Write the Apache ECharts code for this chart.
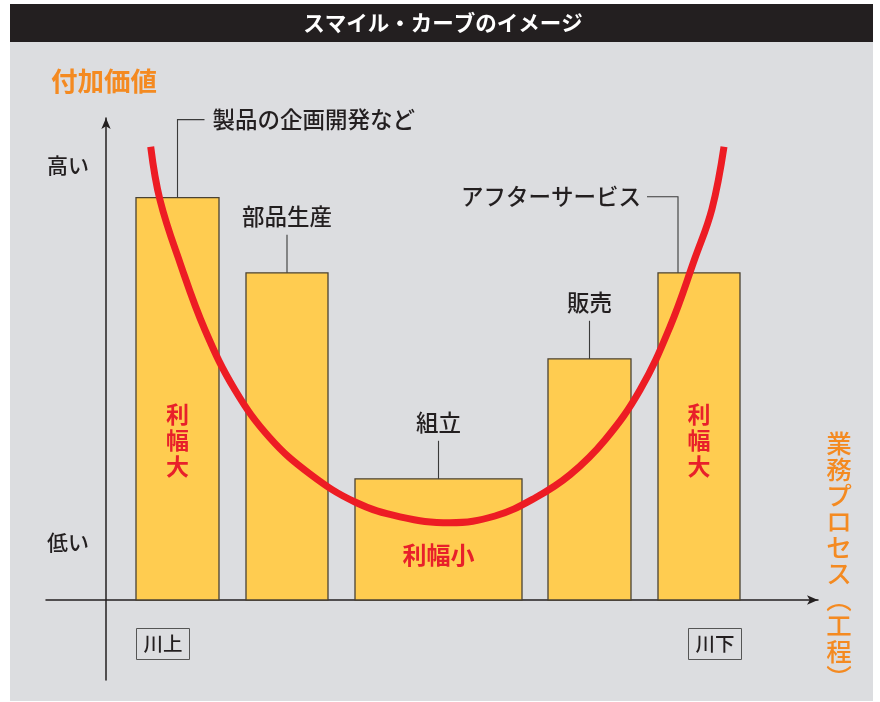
<!DOCTYPE html>
<html><head><meta charset="utf-8">
<script src="https://cdn.jsdelivr.net/npm/echarts@6/dist/echarts.min.js"></script>
<style>html,body{margin:0;padding:0;background:#fff}#c{width:880px;height:702px}</style>
</head><body><div id="c"></div>
<script>
// ---- data ----
const chartTitle = 'スマイル・カーブのイメージ';
const yAxisName = '付加価値';
const xAxisName = '業務プロセス（工程）';
const stages = ['製品の企画開発など', '部品生産', '組立', '販売', 'アフターサービス'];
const stageStart = [3.0, 14.0, 24.9, 44.2, 55.2];
const stageEnd = [11.3, 22.2, 41.6, 52.5, 63.4];
const valueAdded = [10.06, 8.18, 3.03, 6.03, 8.18];
const marginLabels = ['利幅大', '', '利幅小', '', '利幅大'];
const curveX = [4.47, 5.4, 7.4, 9.9, 12.9, 16.4, 20.4, 24.9, 29.4, 34.4, 38.9, 42.9, 46.4, 49.9, 53.4, 56.4, 58.9, 60.6, 61.8];
const curveY = [11.33, 10.0, 8.43, 6.75, 5.25, 4.05, 3.15, 2.45, 2.08, 1.93, 2.1, 2.55, 3.13, 4.0, 5.25, 6.83, 8.55, 9.78, 11.33];
const levelLabels = ['高い', '低い'];
const flowLabels = ['川上', '川下'];

// ---- chart ----
const FONT = '"Noto Sans CJK JP", "Noto Sans", sans-serif';
const INK = '#231f20';
const ORANGE = '#f48a21';
const RED = '#e8202a';
const chart = echarts.init(document.getElementById('c'), null, {renderer: 'canvas'});

const barData = stages.map((s, i) => [stageStart[i], stageEnd[i], valueAdded[i]]);
const curveData = curveX.map((x, i) => [x, curveY[i]]);

function renderBar(params, api) {
  const i = params.dataIndex;
  const p0 = api.coord([api.value(0), api.value(2)]);
  const p1 = api.coord([api.value(1), 0]);
  const cx = (p0[0] + p1[0]) / 2, top = p0[1], base = p1[1];
  const children = [{
    type: 'rect',
    shape: {x: p0[0], y: top, width: p1[0] - p0[0], height: base - top},
    style: {fill: '#ffcc50', stroke: '#4a4234', lineWidth: 1.3}
  }];
  let pts, tx, ty, al;
  if (i === 0) {
    pts = [[cx, top], [cx, top - 78], [cx + 27, top - 78]];
    tx = cx + 35; ty = top - 78; al = 'left';
  } else if (i === stages.length - 1) {
    const lx = p0[0] + 20;
    pts = [[lx, top], [lx, top - 76], [lx - 31, top - 76]];
    tx = lx - 37; ty = top - 76; al = 'right';
  } else {
    pts = [[cx, top], [cx, top - 38]];
    tx = cx; ty = top - 56; al = 'center';
  }
  children.push({type: 'polyline', shape: {points: pts}, style: {stroke: '#3a3a3a', lineWidth: 1.1, fill: null}});
  children.push({type: 'text', style: {x: tx, y: ty, text: stages[i], align: al, verticalAlign: 'middle',
    fontSize: 22.5, fontWeight: 500, fontFamily: FONT, fill: INK}});
  const m = marginLabels[i];
  if (m) {
    if (i === 2) {
      children.push({type: 'text', style: {x: cx, y: base - 45, text: m, align: 'center', verticalAlign: 'middle',
        fontSize: 24, fontWeight: 'bold', fontFamily: FONT, fill: RED}});
    } else {
      children.push({type: 'text', style: {x: cx, y: base - 160, text: m.split('').join('\n'), align: 'center',
        verticalAlign: 'middle', lineHeight: 26, fontSize: 23, fontWeight: 'bold', fontFamily: FONT, fill: RED}});
    }
  }
  return {type: 'group', children};
}

const axisCommon = {
  axisTick: {show: false}, axisLabel: {show: false}, splitLine: {show: false}
};

const option = {
  animation: false,
  backgroundColor: '#ffffff',
  grid: {left: 46, right: 62, top: 118, bottom: 22, containLabel: false},
  xAxis: Object.assign({type: 'value', min: -6, max: 71.2,
    axisLine: {show: true, onZero: true, symbol: ['none', 'arrow'], symbolSize: [7, 11],
      lineStyle: {color: INK, width: 1.5}}}, axisCommon),
  yAxis: Object.assign({type: 'value', min: -2, max: 12.05,
    axisLine: {show: true, onZero: true, symbol: ['none', 'arrow'], symbolSize: [7, 11],
      lineStyle: {color: INK, width: 1.5}}}, axisCommon),
  graphic: [
    {type: 'rect', z: -10, shape: {x: 10, y: 4, width: 863, height: 697}, style: {fill: '#dcdde0'}},
    {type: 'rect', z: -9, shape: {x: 10, y: 4, width: 863, height: 38}, style: {fill: INK}},
    {type: 'text', style: {x: 443, y: 23, text: chartTitle, align: 'center', verticalAlign: 'middle',
      fontSize: 21.5, fontWeight: 'bold', fontFamily: FONT, fill: '#ffffff'}},
    {type: 'text', style: {x: 51, y: 81, text: yAxisName, align: 'left', verticalAlign: 'middle',
      fontSize: 26.5, fontWeight: 'bold', fontFamily: FONT, fill: ORANGE}},
    {type: 'text', style: {x: 839, y: 560, text: xAxisName.replace('（', '︵').replace('）', '︶').split('').join('\n'),
      align: 'center', verticalAlign: 'middle', lineHeight: 26, fontSize: 25.5, fontWeight: 500, fontFamily: FONT, fill: ORANGE}},
    {type: 'text', style: {x: 47, y: 165, text: levelLabels[0], align: 'left', verticalAlign: 'middle',
      fontSize: 21, fontWeight: 500, fontFamily: FONT, fill: INK}},
    {type: 'text', style: {x: 47, y: 542, text: levelLabels[1], align: 'left', verticalAlign: 'middle',
      fontSize: 21, fontWeight: 500, fontFamily: FONT, fill: INK}},
    {type: 'rect', shape: {x: 136.5, y: 628.5, width: 53, height: 31}, style: {fill: 'none', stroke: '#555', lineWidth: 1}},
    {type: 'text', style: {x: 163, y: 644, text: flowLabels[0], align: 'center', verticalAlign: 'middle',
      fontSize: 19.5, fontWeight: 500, fontFamily: FONT, fill: INK}},
    {type: 'rect', shape: {x: 688.5, y: 628.5, width: 53, height: 31}, style: {fill: 'none', stroke: '#555', lineWidth: 1}},
    {type: 'text', style: {x: 715, y: 644, text: flowLabels[1], align: 'center', verticalAlign: 'middle',
      fontSize: 19.5, fontWeight: 500, fontFamily: FONT, fill: INK}}
  ],
  series: [
    {type: 'custom', renderItem: renderBar, data: barData, encode: {x: [0, 1], y: 2}, z: 2, clip: false},
    {type: 'line', data: curveData, smooth: 0.4, smoothMonotone: 'none', showSymbol: false, symbol: 'none', z: 5,
      lineStyle: {color: '#ed1c24', width: 7, cap: 'butt'}}
  ]
};
chart.setOption(option);
</script></body></html>
